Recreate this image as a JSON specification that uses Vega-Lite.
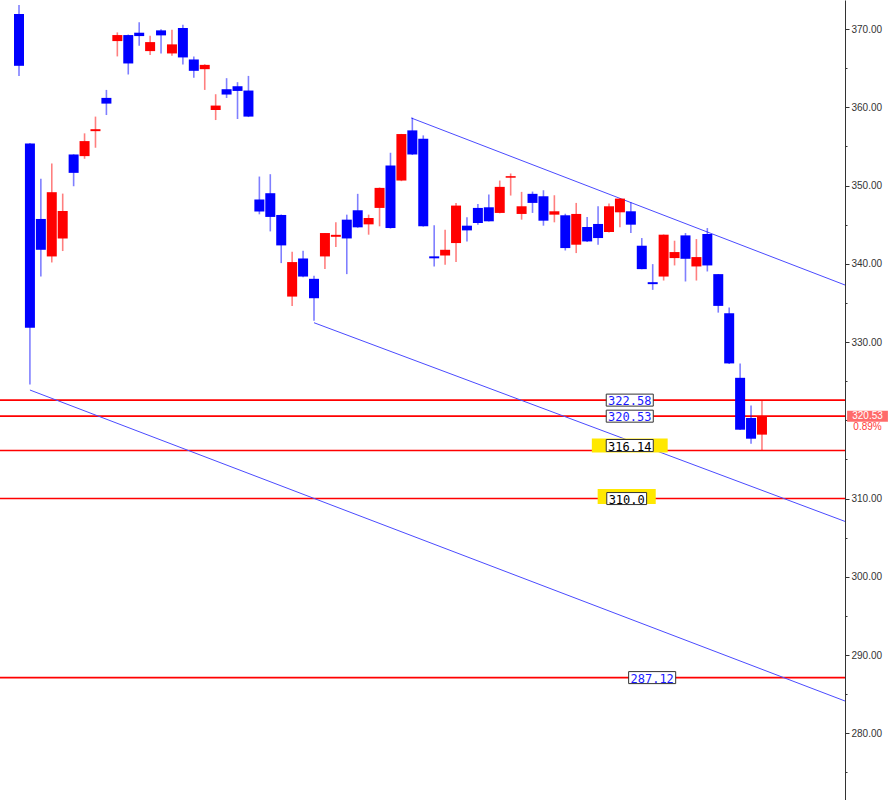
{
  "$schema": "https://vega.github.io/schema/vega-lite/v6.json",
  "width": 845,
  "height": 800,
  "autosize": {"type": "none"},
  "padding": {"left": 0, "top": 0, "right": 45, "bottom": 0},
  "background": "white",
  "config": {
    "view": {"stroke": null},
    "axisY": {
      "orient": "right", "grid": false,
      "values": [275,280,285,290,295,300,305,310,315,320,325,330,335,340,345,350,355,360,365,370],
      "labelExpr": "datum.value % 10 === 0 && datum.value !== 320 ? format(datum.value, '.2f') : ''",
      "tickSize": {"condition": {"test": "datum.value % 10 === 0", "value": 4}, "value": 2},
      "labelFont": "Liberation Sans", "labelFontSize": 10, "labelColor": "#333333",
      "domainColor": "#333333", "tickColor": "#333333", "labelPadding": 2,
      "labelFlush": false, "labelOverlap": false, "labelBound": false
    }
  },
  "datasets": {
    "candles": [
      {"i":0,"o":371.92,"h":373.08,"l":364.0,"c":365.3},
      {"i":1,"o":355.38,"h":355.45,"l":324.58,"c":331.83},
      {"i":2,"o":345.73,"h":350.86,"l":338.37,"c":341.79},
      {"i":3,"o":340.94,"h":352.82,"l":340.17,"c":349.15},
      {"i":4,"o":343.24,"h":348.97,"l":341.63,"c":346.76},
      {"i":5,"o":353.97,"h":354.0,"l":349.91,"c":351.62},
      {"i":6,"o":353.76,"h":356.67,"l":353.42,"c":355.68},
      {"i":7,"o":356.95,"h":358.81,"l":354.83,"c":357.2},
      {"i":8,"o":361.2,"h":362.22,"l":359.01,"c":360.47},
      {"i":9,"o":368.46,"h":369.57,"l":366.5,"c":369.23},
      {"i":10,"o":369.23,"h":369.3,"l":364.19,"c":365.6},
      {"i":11,"o":369.53,"h":370.86,"l":367.86,"c":369.1},
      {"i":12,"o":367.18,"h":369.14,"l":366.67,"c":368.33},
      {"i":13,"o":369.83,"h":369.96,"l":366.88,"c":369.19},
      {"i":14,"o":366.88,"h":369.91,"l":366.58,"c":368.04},
      {"i":15,"o":370.13,"h":370.55,"l":365.47,"c":366.37},
      {"i":16,"o":366.11,"h":366.5,"l":363.76,"c":364.66},
      {"i":17,"o":364.87,"h":365.5,"l":362.22,"c":365.42},
      {"i":18,"o":359.65,"h":361.67,"l":358.37,"c":360.22},
      {"i":19,"o":362.31,"h":363.72,"l":361.19,"c":361.63},
      {"i":20,"o":362.69,"h":363.21,"l":358.5,"c":362.09},
      {"i":21,"o":362.14,"h":364.01,"l":358.75,"c":358.81},
      {"i":22,"o":348.21,"h":351.15,"l":346.32,"c":346.67},
      {"i":23,"o":349.02,"h":351.45,"l":344.14,"c":345.99},
      {"i":24,"o":346.24,"h":346.3,"l":340.09,"c":342.35},
      {"i":25,"o":335.81,"h":341.54,"l":334.62,"c":340.22},
      {"i":26,"o":340.68,"h":341.67,"l":338.29,"c":338.37},
      {"i":27,"o":338.08,"h":338.46,"l":332.73,"c":335.6},
      {"i":28,"o":340.94,"h":343.95,"l":339.32,"c":343.93},
      {"i":29,"o":343.45,"h":345.3,"l":342.14,"c":343.7},
      {"i":30,"o":345.64,"h":346.28,"l":338.68,"c":343.24},
      {"i":31,"o":346.84,"h":348.94,"l":344.6,"c":344.66},
      {"i":32,"o":345.04,"h":346.28,"l":343.72,"c":345.85},
      {"i":33,"o":347.14,"h":349.75,"l":344.79,"c":349.7},
      {"i":34,"o":352.56,"h":354.19,"l":344.5,"c":344.57},
      {"i":35,"o":350.64,"h":356.6,"l":350.56,"c":356.58},
      {"i":36,"o":357.05,"h":358.68,"l":353.9,"c":353.97},
      {"i":37,"o":355.99,"h":356.41,"l":344.75,"c":344.79},
      {"i":38,"o":340.95,"h":344.91,"l":339.66,"c":340.7},
      {"i":39,"o":341.06,"h":344.36,"l":339.87,"c":341.79},
      {"i":40,"o":342.65,"h":347.78,"l":340.22,"c":347.44},
      {"i":41,"o":344.87,"h":345.94,"l":342.86,"c":344.27},
      {"i":42,"o":347.14,"h":347.65,"l":345.0,"c":345.21},
      {"i":43,"o":347.22,"h":348.85,"l":345.4,"c":345.43},
      {"i":44,"o":346.5,"h":350.64,"l":346.45,"c":349.83},
      {"i":45,"o":351.0,"h":351.54,"l":348.72,"c":351.2},
      {"i":46,"o":346.37,"h":349.19,"l":345.64,"c":347.35},
      {"i":47,"o":348.94,"h":349.23,"l":346.5,"c":347.78},
      {"i":48,"o":348.63,"h":349.4,"l":344.87,"c":345.51},
      {"i":49,"o":346.28,"h":348.76,"l":345.3,"c":346.71},
      {"i":50,"o":346.2,"h":346.4,"l":341.7,"c":342.01},
      {"i":51,"o":342.44,"h":347.78,"l":341.37,"c":346.37},
      {"i":52,"o":344.7,"h":345.98,"l":342.8,"c":342.86},
      {"i":53,"o":345.09,"h":347.35,"l":342.44,"c":343.29},
      {"i":54,"o":344.06,"h":347.69,"l":344.0,"c":347.35},
      {"i":55,"o":346.58,"h":348.4,"l":344.66,"c":348.33},
      {"i":56,"o":346.71,"h":347.86,"l":343.93,"c":345.0},
      {"i":57,"o":342.31,"h":343.29,"l":339.3,"c":339.32},
      {"i":58,"o":337.65,"h":339.96,"l":336.67,"c":337.4},
      {"i":59,"o":338.37,"h":343.75,"l":337.86,"c":343.72},
      {"i":60,"o":340.73,"h":342.95,"l":339.79,"c":341.5},
      {"i":61,"o":343.63,"h":343.93,"l":337.74,"c":340.64},
      {"i":62,"o":339.66,"h":343.16,"l":337.86,"c":340.86},
      {"i":63,"o":343.81,"h":344.57,"l":339.02,"c":339.79},
      {"i":64,"o":338.68,"h":338.7,"l":333.76,"c":334.62},
      {"i":65,"o":333.68,"h":334.4,"l":327.2,"c":327.27},
      {"i":66,"o":325.43,"h":327.27,"l":318.75,"c":318.8},
      {"i":67,"o":320.3,"h":321.88,"l":317.01,"c":317.65},
      {"i":68,"o":318.17,"h":322.58,"l":316.14,"c":320.53}
    ],
    "levels": [
      {"v":322.58,"i":55.9,"t":"322.58"},
      {"v":320.53,"i":55.9,"t":"320.53"},
      {"v":316.14,"i":55.9,"t":"316.14"},
      {"v":310.0,"i":55.62,"t":"310.0"},
      {"v":287.12,"i":57.95,"t":"287.12"}
    ],
    "channels": [
      {"i1":35.9,"v1":358.63,"i2":75.6,"v2":337.29},
      {"i1":27.0,"v1":332.47,"i2":75.6,"v2":307.08},
      {"i1":1.0,"v1":323.87,"i2":75.6,"v2":284.13}
    ],
    "last": [
      {"i":77.66,"v":320.53,"pct":"0.89%"}
    ]
  },
  "layer": [
    {
      "mark": {"type": "rule", "color": "#d4d4d4", "strokeWidth": 1},
      "encoding": {
        "x": {"datum": 79.5, "type": "quantitative", "scale": {"domain": [-1.739, 75.6], "nice": false, "zero": false, "padding": 0}, "axis": null}
      }
    },
    {
      "data": {"name": "levels"},
      "mark": {"type": "rule", "color": "#ff0000", "strokeWidth": 1.6},
      "encoding": {
        "y": {"field": "v", "type": "quantitative", "scale": {"domain": [271.48, 373.71], "nice": false, "zero": false}, "title": null}
      }
    },
    {
      "data": {"name": "channels"},
      "mark": {"type": "rule", "color": "#4b4bff", "strokeWidth": 1, "clip": true},
      "encoding": {
        "x": {"field": "i1", "type": "quantitative", "scale": {"domain": [-1.739, 75.6], "nice": false, "zero": false, "padding": 0}, "axis": null},
        "x2": {"field": "i2"},
        "y": {"field": "v1", "type": "quantitative", "scale": {"domain": [271.48, 373.71], "nice": false, "zero": false}, "title": null},
        "y2": {"field": "v2"}
      }
    },
    {
      "data": {"name": "candles"},
      "mark": {"type": "rule", "strokeWidth": 1.6, "opacity": 0.5},
      "encoding": {
        "x": {"field": "i", "type": "quantitative", "scale": {"domain": [-1.739, 75.6], "nice": false, "zero": false, "padding": 0}, "axis": null},
        "y": {"field": "l", "type": "quantitative", "scale": {"domain": [271.48, 373.71], "nice": false, "zero": false}, "title": null},
        "y2": {"field": "h"},
        "color": {"condition": {"test": "datum.c > datum.o", "value": "#ff0000"}, "value": "#0000ff"}
      }
    },
    {
      "data": {"name": "candles"},
      "mark": {"type": "bar", "size": 10},
      "encoding": {
        "x": {"field": "i", "type": "quantitative", "scale": {"domain": [-1.739, 75.6], "nice": false, "zero": false, "padding": 0}, "axis": null},
        "y": {"field": "o", "type": "quantitative", "scale": {"domain": [271.48, 373.71], "nice": false, "zero": false}, "title": null},
        "y2": {"field": "c"},
        "color": {"condition": {"test": "datum.c > datum.o", "value": "#ff0000"}, "value": "#0000ff"}
      }
    },
    {
      "data": {"name": "levels"},
      "transform": [{"filter": "datum.t == '310.0'"}],
      "mark": {"type": "point", "filled": true, "opacity": 1, "size": 2304, "color": "#ffe800", "strokeWidth": 0, "yOffset": -2, "shape": "M-1.21,-0.31H1.21V0.31H-1.21Z"},
      "encoding": {
        "x": {"field": "i", "type": "quantitative", "scale": {"domain": [-1.739, 75.6], "nice": false, "zero": false, "padding": 0}, "axis": null},
        "y": {"field": "v", "type": "quantitative", "scale": {"domain": [271.48, 373.71], "nice": false, "zero": false}, "title": null}
      }
    },
    {
      "data": {"name": "levels"},
      "transform": [{"filter": "datum.t == '316.14'"}],
      "mark": {"type": "point", "filled": true, "opacity": 1, "size": 2304, "color": "#ffe800", "strokeWidth": 0, "yOffset": -5, "shape": "M-1.58,-0.29H1.58V0.29H-1.58Z"},
      "encoding": {
        "x": {"field": "i", "type": "quantitative", "scale": {"domain": [-1.739, 75.6], "nice": false, "zero": false, "padding": 0}, "axis": null},
        "y": {"field": "v", "type": "quantitative", "scale": {"domain": [271.48, 373.71], "nice": false, "zero": false}, "title": null}
      }
    },
    {
      "data": {"name": "levels"},
      "transform": [{"filter": "datum.t != '316.14'"}],
      "mark": {"type": "point", "filled": false, "opacity": 1, "size": 2304, "fill": "white", "fillOpacity": 1, "stroke": "#333333", "strokeWidth": 1},
      "encoding": {
        "x": {"field": "i", "type": "quantitative", "scale": {"domain": [-1.739, 75.6], "nice": false, "zero": false, "padding": 0}, "axis": null},
        "y": {"field": "v", "type": "quantitative", "scale": {"domain": [271.48, 373.71], "nice": false, "zero": false}, "title": null},
        "shape": {"condition": {"test": "datum.t == '310.0'", "value": "M-0.83,-0.25H0.83V0.25H-0.83Z"}, "value": "M-0.98,-0.25H0.98V0.25H-0.98Z"}
      }
    },
    {
      "data": {"name": "levels"},
      "transform": [{"filter": "datum.t != '316.14'"}],
      "mark": {"type": "text", "font": "DejaVu Sans Mono", "fontSize": 12, "align": "center", "baseline": "middle", "dy": 1},
      "encoding": {
        "x": {"field": "i", "type": "quantitative", "scale": {"domain": [-1.739, 75.6], "nice": false, "zero": false, "padding": 0}, "axis": null},
        "y": {"field": "v", "type": "quantitative", "scale": {"domain": [271.48, 373.71], "nice": false, "zero": false}, "title": null},
        "text": {"field": "t"},
        "color": {"condition": {"test": "datum.t == '310.0'", "value": "#000000"}, "value": "#1a1aff"}
      }
    },
    {
      "data": {"name": "levels"},
      "transform": [{"filter": "datum.t == '316.14'"}],
      "mark": {"type": "point", "filled": false, "opacity": 1, "size": 2304, "fill": "white", "fillOpacity": 1, "stroke": "#333333", "strokeWidth": 1, "yOffset": -5, "shape": "M-0.98,-0.25H0.98V0.25H-0.98Z"},
      "encoding": {
        "x": {"field": "i", "type": "quantitative", "scale": {"domain": [-1.739, 75.6], "nice": false, "zero": false, "padding": 0}, "axis": null},
        "y": {"field": "v", "type": "quantitative", "scale": {"domain": [271.48, 373.71], "nice": false, "zero": false}, "title": null}
      }
    },
    {
      "data": {"name": "levels"},
      "transform": [{"filter": "datum.t == '316.14'"}],
      "mark": {"type": "text", "font": "DejaVu Sans Mono", "fontSize": 12, "align": "center", "baseline": "middle", "dy": -4, "color": "#000000"},
      "encoding": {
        "x": {"field": "i", "type": "quantitative", "scale": {"domain": [-1.739, 75.6], "nice": false, "zero": false, "padding": 0}, "axis": null},
        "y": {"field": "v", "type": "quantitative", "scale": {"domain": [271.48, 373.71], "nice": false, "zero": false}, "title": null},
        "text": {"field": "t"}
      }
    },
    {
      "data": {"name": "last"},
      "mark": {"type": "point", "filled": true, "opacity": 1, "size": 2304, "color": "#ff6b6b", "strokeWidth": 0, "shape": "M-0.85,-0.23H0.85V0.23H-0.85Z"},
      "encoding": {
        "x": {"field": "i", "type": "quantitative", "scale": {"domain": [-1.739, 75.6], "nice": false, "zero": false, "padding": 0}, "axis": null},
        "y": {"field": "v", "type": "quantitative", "scale": {"domain": [271.48, 373.71], "nice": false, "zero": false}, "title": null}
      }
    },
    {
      "data": {"name": "last"},
      "mark": {"type": "text", "font": "Liberation Sans", "fontSize": 10, "color": "white", "align": "center", "baseline": "middle"},
      "encoding": {
        "x": {"field": "i", "type": "quantitative", "scale": {"domain": [-1.739, 75.6], "nice": false, "zero": false, "padding": 0}, "axis": null},
        "y": {"field": "v", "type": "quantitative", "scale": {"domain": [271.48, 373.71], "nice": false, "zero": false}, "title": null},
        "text": {"field": "v", "format": ".2f"}
      }
    },
    {
      "data": {"name": "last"},
      "mark": {"type": "text", "font": "Liberation Sans", "fontSize": 10, "color": "#ff3b3b", "align": "center", "baseline": "middle", "dy": 11},
      "encoding": {
        "x": {"field": "i", "type": "quantitative", "scale": {"domain": [-1.739, 75.6], "nice": false, "zero": false, "padding": 0}, "axis": null},
        "y": {"field": "v", "type": "quantitative", "scale": {"domain": [271.48, 373.71], "nice": false, "zero": false}, "title": null},
        "text": {"field": "pct"}
      }
    }
  ]
}
